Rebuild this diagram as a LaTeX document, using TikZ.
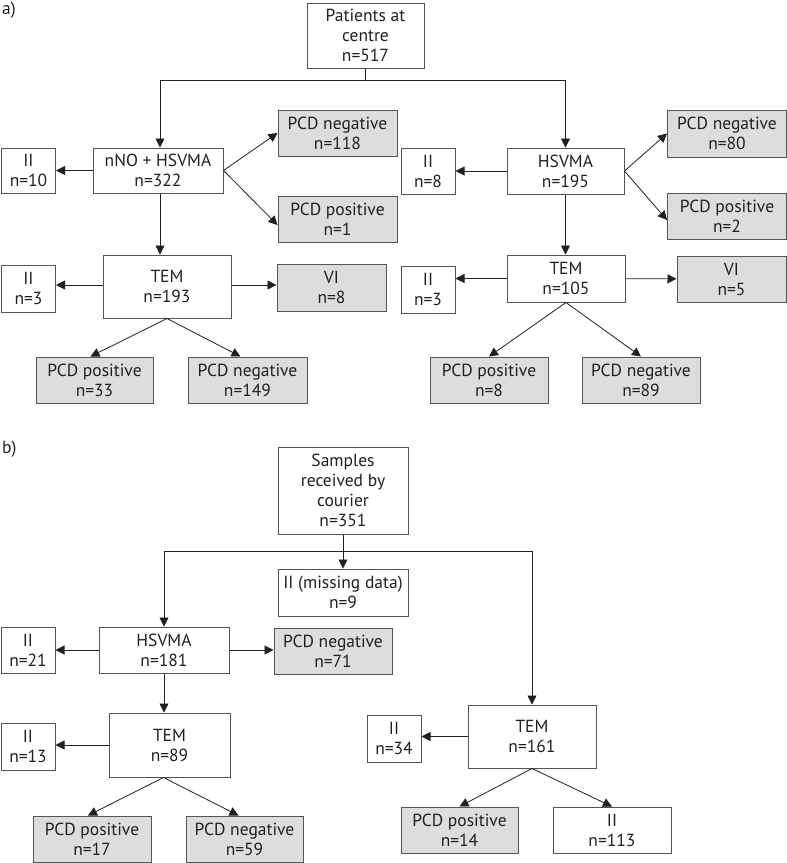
\documentclass[tikz,border=0pt]{standalone}
\usepackage{fontspec}
\setmainfont{PT Sans}
\usetikzlibrary{arrows.meta}
\definecolor{boxgrey}{HTML}{DCDDDE}
\definecolor{edgegrey}{HTML}{555555}
\definecolor{inkgrey}{HTML}{231F20}

\begin{document}
\begin{tikzpicture}[x=1pt, y=-1pt, color=inkgrey,
        box/.style={draw=edgegrey, line width=1pt, fill=white, align=center,
                    inner sep=0pt, font=\fontsize{17.5}{20}\selectfont,
                    minimum height=46pt, minimum width=118pt},
        small/.style={box, minimum width=54pt},
        shaded/.style={box, fill=boxgrey},
        arr/.style={-{Triangle[length=9pt,width=9pt]}, line width=0.8pt},
        tag/.style={anchor=west, inner sep=0pt, font=\fontsize{17.5}{20}\selectfont}]
    \useasboundingbox (0,0) rectangle (787,863);
    % a) patients at centre
    \node[tag] (taga) at (2,10) {a)};
    \node[box, minimum width=117pt, minimum height=65pt] (pat) at (365.5,35.5) {Patients at\\centre\\n=517};
    \node[box, minimum width=130pt, minimum height=45pt] (nno) at (158,170.5) {nNO + HSVMA\\n=322};
    \node[small, minimum height=45pt] (iia1) at (28.5,170.5) {II\\n=10};
    \node[shaded, minimum width=119pt] (nega1) at (337.5,133) {PCD negative\\n=118};
    \node[shaded, minimum width=119pt] (posa1) at (337.5,219) {PCD positive\\n=1};
    \node[box, minimum width=117pt] (hsv) at (565.5,171) {HSVMA\\n=195};
    \node[small] (iia2) at (428,171) {II\\n=8};
    \node[shaded, minimum width=119pt, minimum height=47pt] (nega2) at (727,133.5) {PCD negative\\n=80};
    \node[shaded, minimum width=119pt] (posa2) at (727,216) {PCD positive\\n=2};
    \node[box, minimum width=128pt, minimum height=63pt] (tema1) at (167,286.5) {TEM\\n=193};
    \node[small, minimum height=47pt] (iia3) at (28.5,288.5) {II\\n=3};
    \node[shaded, minimum width=109pt, minimum height=47pt] (via1) at (331.5,287.5) {VI\\n=8};
    \node[shaded, minimum width=117pt] (posa3) at (94.5,380) {PCD positive\\n=33};
    \node[shaded, minimum width=119pt] (nega3) at (247.5,380) {PCD negative\\n=149};
    \node[box, minimum height=47pt] (tema2) at (566,278.5) {TEM\\n=105};
    \node[small, minimum height=47pt] (iia4) at (428,289.5) {II\\n=3};
    \node[shaded, minimum width=109pt] (via2) at (731.5,279) {VI\\n=5};
    \node[shaded] (posa4) at (489,380) {PCD positive\\n=8};
    \node[shaded] (nega4) at (641,380) {PCD negative\\n=89};

    \coordinate (splita) at (pat.south |- 0,80);
    \draw[line width=0.8pt] (pat.south) -- (splita);
    \draw[arr] (splita) -| ([xshift=2pt]nno.north);
    \draw[arr] (splita) -| (hsv.north);
    \draw[arr] (nno) -- (iia1);
    \draw[arr] (nno.east) -- (nega1.west);
    \draw[arr] (nno.east) -- ([yshift=-6pt]posa1.west);
    \draw[arr] (hsv) -- (iia2);
    \draw[arr] (hsv.east) -- (nega2.west);
    \draw[arr] (hsv.east) -- ([yshift=-4pt]posa2.west);
    \draw[arr] ([xshift=2pt]nno.south) -- ([xshift=2pt]nno.south |- tema1.north);
    \draw[arr] (hsv.south) -- (hsv.south |- tema2.north);
    \draw[arr] ([yshift=1.5pt]tema1.west) -- ([yshift=1.5pt]tema1.west -| iia3.east);
    \draw[arr] ([yshift=1.5pt]tema1.east) -- ([yshift=1.5pt]tema1.east -| via1.west);
    \draw[arr] (tema1.south) -- ([xshift=-4pt]posa3.north);
    \draw[arr] (tema1.south) -- ([xshift=-7pt]nega3.north);
    \draw[arr] (tema2.west) -- (tema2.west -| iia4.east);
    \draw[arr] (tema2) -- (via2);
    \draw[arr] (tema2.south) -- (posa4.north);
    \draw[arr] (tema2.south) -- (nega4.north);

    % b) samples by courier
    \node[tag] (tagb) at (2,449) {b)};
    \node[box, minimum width=130pt, minimum height=87pt] (smp) at (343,490.5) {Samples\\received by\\courier\\n=351};
    \node[box, minimum width=130pt, minimum height=47pt] (miss) at (343,592.5) {II (missing data)\\n=9};
    \node[box, minimum width=130pt] (hsvb) at (164,650) {HSVMA\\n=181};
    \node[small] (iib1) at (28,650) {II\\n=21};
    \node[shaded] (negb1) at (333,651) {PCD negative\\n=71};
    \node[box, minimum width=121pt, minimum height=64pt] (temb1) at (169.5,745) {TEM\\n=89};
    \node[small, minimum height=47pt] (iib2) at (28,746.5) {II\\n=13};
    \node[shaded] (posb1) at (92,839) {PCD positive\\n=17};
    \node[shaded, minimum width=117pt] (negb2) at (244.5,839) {PCD negative\\n=59};
    \node[box, minimum width=128pt, minimum height=63pt] (temb2) at (532,736.5) {TEM\\n=161};
    \node[small, minimum height=47pt] (iib3) at (394,738.5) {II\\n=34};
    \node[shaded, minimum width=117pt] (posb2) at (459.5,830) {PCD positive\\n=14};
    \node[box] (iib4) at (612,830) {II\\n=113};

    \coordinate (splitb) at (smp.south |- 0,551);
    \draw[arr] (smp.south) -- (miss.north);
    \draw[arr] (splitb) -| (hsvb.north);
    \draw[arr] (splitb) -| (temb2.north);
    \draw[arr] (hsvb) -- (iib1);
    \draw[arr] (hsvb) -- (hsvb -| negb1.west);
    \draw[arr] (hsvb.south) -- (hsvb.south |- temb1.north);
    \draw[arr] (temb1) -- (temb1 -| iib2.east);
    \draw[arr] ([xshift=-6pt]temb1.south) -- ([xshift=-4pt]posb1.north);
    \draw[arr] ([xshift=-6pt]temb1.south) -- ([xshift=-6pt]negb2.north);
    \draw[arr] (temb2) -- (temb2 -| iib3.east);
    \draw[arr] (temb2.south) -- (posb2.north);
    \draw[arr] (temb2.south) -- (iib4.north);
\end{tikzpicture}
\end{document}
